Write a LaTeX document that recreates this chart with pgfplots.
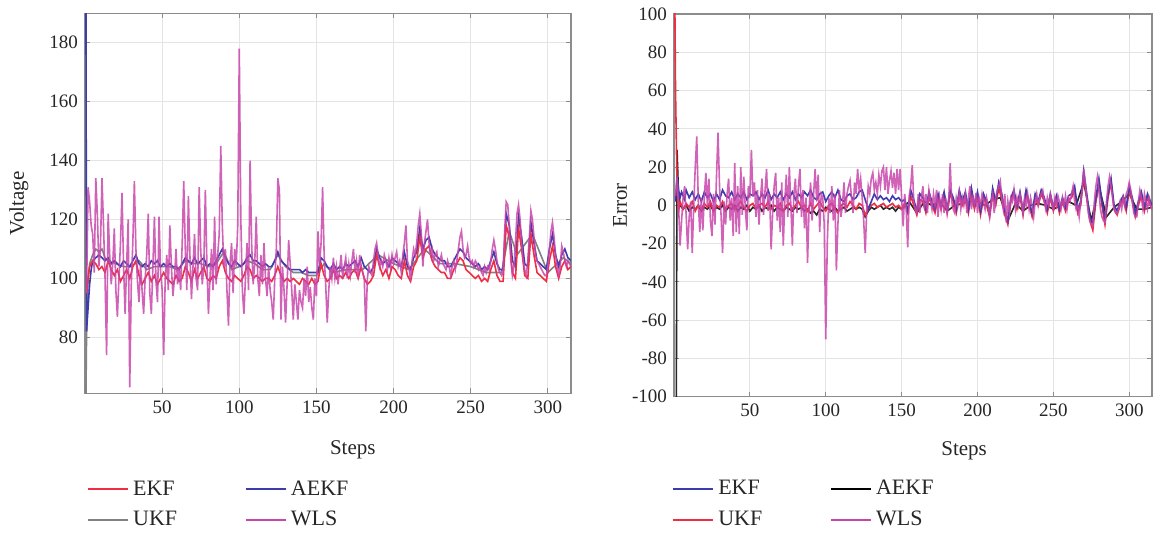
\documentclass[border=0pt]{standalone}
\usepackage{fontspec}
\setmainfont{Liberation Serif}
\usepackage{pgfplots}
\pgfplotsset{compat=1.18}

\definecolor{cRed}{RGB}{240,45,65}
\definecolor{cBlue}{RGB}{60,60,175}
\definecolor{cMag}{RGB}{200,70,170}
\definecolor{cGray}{RGB}{130,130,130}
\definecolor{cFrame}{RGB}{140,140,140}
\definecolor{cGrid}{RGB}{228,228,228}

\pgfplotsset{
  panel/.style={
    scale only axis, clip=true,
    axis line style={cFrame, line width=0.6pt},
    tick style={cFrame, line width=0.5pt},
    major tick length=2.5pt,
    tick pos=both, tick align=inside,
    grid=major, grid style={cGrid, line width=0.5pt},
    /pgf/number format/assume math mode=true,
    tick label style={font=\fontsize{9.5}{11}\selectfont, text=black!85},
    label style={font=\fontsize{10.5}{12}\selectfont, text=black!85},
    xtick={50,100,...,300},
    xmin=0, xmax=315,
    xlabel={Steps},
    legend columns=2,
    legend cell align=left,
    legend image code/.code={\path (0pt,0pt) -- (20pt,0pt); \draw[##1] (0pt,0pt) -- (17.5pt,0pt);},
    legend style={draw=none, fill=none, anchor=north west, inner sep=0pt,
      font=\fontsize{11}{13}\selectfont, text=black!85, row sep=2.5pt,
      /tikz/every even column/.append style={column sep=32pt}},
  },
  ln/.style={line width=0.8pt},
}

\begin{document}
\begin{tikzpicture}
% ---------------- left: voltage ----------------
\begin{axis}[panel, name=left, width=243pt, height=190pt,
  ymin=61, ymax=190, ytick={80,100,...,180},
  ylabel={Voltage},
  ylabel style={at={(axis description cs:-0.136,0.5)}, anchor=center},
  xlabel style={at={(axis description cs:0.551,0)}, anchor=north, yshift=-20pt},
  legend style={at={(axis description cs:0.004,-0.218)}}]
\addlegendimage{draw=cRed, line width=0.9pt}\addlegendentry{EKF}
\addlegendimage{draw=cBlue, line width=0.9pt}\addlegendentry{AEKF}
\addlegendimage{draw=cGray, line width=0.9pt}\addlegendentry{UKF}
\addlegendimage{draw=cMag, line width=0.9pt}\addlegendentry{WLS}
% UKF
\addplot[ln, cGray, forget plot] coordinates {(0.2,40)(1,80)(2,100)(3,105)(5,108)(7,110)(9,109)(11,110)(13,107)(15,106)(20,105)(25,104)(30,104)(35,106)(40,103)(45,104)(50,104)(55,104)(60,103)(65,106)(70,105)(75,105)(80,104)(85,105)(90,109)(95,103)(100,104)(105,106)(110,105)(115,103)(120,103)(125,108)(130,104)(135,102)(140,102)(145,101)(150,101)(155,105)(160,102)(170,103)(180,103)(190,108)(200,105)(210,103)(220,110)(230,105)(240,105)(250,104)(260,102)(270,102)(275,116)(280,108)(290,115)(300,102)(310,107)(315,105)};
% AEKF
\addplot[ln, cBlue, forget plot] coordinates {(0.6,200)(1,82)(2,90)(3,98)(4,103)(5,106)(7,107)(9,108)(11,107)(13,106)(15,107)(17,105)(19,106)(21,105)(23,104)(25,106)(27,105)(29,104)(31,106)(33,108)(35,105)(37,104)(39,105)(41,104)(43,106)(45,105)(47,106)(49,104)(51,105)(53,104)(55,105)(57,104)(59,104)(61,103)(63,105)(65,107)(67,106)(69,105)(71,107)(73,105)(75,106)(77,107)(79,104)(81,105)(83,104)(85,106)(87,108)(89,110)(91,107)(93,105)(95,104)(97,106)(99,105)(101,104)(103,105)(105,107)(107,108)(109,106)(111,106)(113,105)(115,104)(117,105)(119,104)(121,104)(123,106)(125,109)(127,106)(129,105)(131,104)(133,103)(135,103)(137,103)(139,103)(141,102)(143,103)(145,102)(147,102)(149,102)(151,102)(153,107)(155,106)(157,104)(159,103)(161,105)(163,103)(165,104)(167,103)(169,105)(171,104)(173,105)(175,106)(177,104)(179,107)(181,104)(183,103)(185,102)(187,104)(189,110)(191,107)(193,105)(195,106)(197,104)(199,107)(201,106)(203,105)(205,104)(207,109)(209,104)(211,103)(213,107)(215,109)(217,117)(219,110)(221,113)(223,114)(225,110)(227,108)(229,107)(231,106)(233,106)(235,104)(237,104)(239,106)(241,108)(243,110)(245,109)(247,107)(249,106)(251,105)(253,104)(255,105)(257,103)(259,104)(261,103)(263,106)(265,109)(267,105)(269,103)(271,103)(273,122)(275,118)(277,106)(279,104)(281,121)(283,114)(285,105)(287,104)(289,119)(291,112)(293,106)(295,105)(297,104)(299,103)(301,110)(303,115)(305,108)(307,104)(309,108)(311,110)(313,107)(315,106)};
% EKF
\addplot[ln, cRed, forget plot] coordinates {(1,95)(2,100)(3,104)(5,106)(7,105)(9,103)(11,104)(13,102)(15,106)(17,103)(19,101)(21,103)(23,99)(25,101)(27,103)(29,100)(31,104)(33,106)(35,101)(37,98)(39,100)(41,102)(43,99)(45,101)(47,98)(49,100)(51,102)(53,100)(55,99)(57,98)(59,101)(61,99)(63,100)(65,104)(67,102)(69,99)(71,103)(73,100)(75,102)(77,104)(79,100)(81,99)(83,101)(85,100)(87,104)(89,106)(91,102)(93,100)(95,99)(97,101)(99,100)(101,99)(103,101)(105,104)(107,103)(109,100)(111,101)(113,100)(115,99)(117,100)(119,100)(121,99)(123,101)(125,104)(127,101)(129,99)(131,100)(133,99)(135,100)(137,99)(139,98)(141,100)(143,99)(145,98)(147,100)(149,98)(151,99)(153,105)(155,101)(157,99)(159,100)(161,103)(163,100)(165,101)(167,100)(169,102)(171,100)(173,102)(175,103)(177,100)(179,104)(181,100)(183,98)(185,99)(187,101)(189,108)(191,104)(193,101)(195,103)(197,100)(199,104)(201,103)(203,101)(205,100)(207,106)(209,101)(211,99)(213,104)(215,106)(217,114)(219,107)(221,110)(223,111)(225,106)(227,104)(229,103)(231,102)(233,102)(235,100)(237,100)(239,103)(241,105)(243,107)(245,106)(247,103)(249,102)(251,101)(253,100)(255,101)(257,99)(259,100)(261,99)(263,103)(265,106)(267,101)(269,99)(271,99)(273,118)(275,114)(277,102)(279,100)(281,117)(283,110)(285,101)(287,100)(289,115)(291,108)(293,102)(295,101)(297,100)(299,99)(301,106)(303,111)(305,104)(307,100)(309,104)(311,106)(313,103)(315,104)};
% WLS
\addplot[ln, cMag, opacity=0.85, forget plot] coordinates {(1,95)(2,131)(3,126)(4,118)(5,115)(6,102)(7,134)(8,122)(9,104)(10,110)(11,134)(12,118)(13,100)(14,74)(15,122)(16,108)(17,98)(18,105)(19,117)(20,96)(21,87)(22,100)(23,112)(24,129)(25,104)(26,88)(27,105)(28,120)(29,63)(30,98)(31,112)(32,133)(33,110)(34,99)(35,92)(36,105)(37,96)(38,88)(39,100)(40,108)(41,122)(42,95)(43,88)(44,104)(45,121)(46,99)(47,92)(48,121)(49,102)(50,96)(51,74)(52,100)(53,108)(54,96)(55,118)(56,104)(57,94)(58,100)(59,110)(60,98)(61,104)(62,96)(63,112)(64,133)(65,110)(66,96)(67,128)(68,108)(69,93)(70,104)(71,115)(72,100)(73,96)(74,131)(75,110)(76,98)(77,104)(78,130)(79,105)(80,88)(81,100)(82,110)(83,96)(84,121)(85,98)(86,108)(87,115)(88,145)(89,118)(90,104)(91,110)(92,96)(93,84)(94,105)(95,112)(96,95)(97,110)(98,104)(99,118)(100,178)(101,120)(102,96)(103,88)(104,100)(105,112)(106,96)(107,140)(108,112)(109,98)(110,105)(111,121)(112,100)(113,94)(114,108)(115,98)(116,112)(117,100)(118,94)(119,104)(120,96)(121,92)(122,86)(123,100)(124,110)(125,134)(126,130)(127,86)(128,104)(129,96)(130,85)(131,98)(132,113)(133,105)(134,96)(135,86)(136,98)(137,92)(138,86)(139,96)(140,92)(141,90)(142,100)(143,94)(144,104)(145,92)(146,97)(147,90)(148,86)(149,100)(150,94)(151,116)(152,104)(153,112)(154,131)(155,108)(156,98)(157,85)(158,96)(159,104)(160,100)(161,107)(162,100)(163,104)(164,98)(165,103)(166,108)(167,100)(168,104)(169,107)(170,100)(171,105)(172,101)(173,106)(174,110)(175,102)(176,106)(177,100)(178,108)(179,104)(180,102)(181,100)(182,82)(183,100)(184,104)(185,102)(186,101)(187,106)(188,110)(189,112)(190,108)(191,104)(192,106)(193,104)(194,108)(195,106)(196,103)(197,107)(198,104)(199,108)(200,105)(201,107)(202,109)(203,104)(204,106)(205,102)(206,108)(207,112)(208,118)(209,106)(210,104)(211,99)(212,106)(213,110)(214,108)(215,112)(216,118)(217,122)(218,115)(219,104)(220,112)(221,116)(222,120)(223,112)(224,108)(225,110)(226,106)(227,108)(228,109)(229,104)(230,106)(231,108)(232,105)(233,104)(234,103)(235,106)(236,104)(237,101)(238,104)(239,106)(240,103)(241,106)(242,110)(243,114)(244,116)(245,110)(246,107)(247,108)(248,111)(249,107)(250,105)(251,106)(252,104)(253,106)(254,105)(255,103)(256,104)(257,102)(258,101)(259,104)(260,102)(261,104)(262,103)(263,106)(264,110)(265,113)(266,110)(267,106)(268,103)(269,102)(270,101)(271,102)(272,116)(273,126)(274,125)(275,118)(276,106)(277,101)(278,104)(279,112)(280,122)(281,125)(282,120)(283,112)(284,106)(285,103)(286,101)(287,106)(288,114)(289,123)(290,120)(291,114)(292,108)(293,106)(294,105)(295,104)(296,103)(297,102)(298,101)(299,101)(300,104)(301,110)(302,116)(303,119)(304,114)(305,108)(306,104)(307,101)(308,104)(309,111)(310,109)(311,106)(312,104)(313,106)(314,105)(315,104)};
\end{axis}

% ---------------- right: error ----------------
\begin{axis}[panel, name=right, at={(294.5pt,-1.7pt)}, width=239pt, height=191.35pt,
  ymin=-100, ymax=100, ytick={-100,-80,...,100},
  ylabel={Error},
  ylabel style={at={(axis description cs:-0.113,0.5)}, anchor=center},
  xlabel style={at={(axis description cs:0.607,0)}, anchor=north, yshift=-19pt},
  legend style={at={(axis description cs:-0.004,-0.207)}}]
\addlegendimage{draw=cBlue, line width=0.9pt}\addlegendentry{EKF}
\addlegendimage{draw=black, line width=0.9pt}\addlegendentry{AEKF}
\addlegendimage{draw=cRed, line width=0.9pt}\addlegendentry{UKF}
\addlegendimage{draw=cMag, line width=0.9pt}\addlegendentry{WLS}
% AEKF
\addplot[ln, black!85, forget plot] coordinates {(0.8,-120)(1.5,-110)(2,29)(3,5)(4,0)(6,-2)(8,0)(10,-3)(12,-1)(14,-2)(16,0)(18,-3)(20,-1)(22,-2)(24,0)(26,-3)(28,-1)(30,-2)(32,0)(34,-3)(36,-1)(38,-2)(40,0)(42,-3)(44,-1)(46,-2)(48,0)(50,-3)(52,-1)(54,-2)(56,0)(58,-3)(60,-1)(62,-2)(64,0)(66,-3)(68,-1)(70,-2)(72,-3)(74,-1)(76,-2)(78,-3)(80,-1)(82,-2)(84,-1)(86,-3)(88,-2)(90,-4)(92,-3)(94,-5)(96,-2)(98,-3)(100,-1)(102,-2)(104,-3)(106,-1)(108,-3)(110,-2)(112,-1)(114,-3)(116,-2)(118,-1)(120,-2)(122,-1)(124,-2)(126,-6)(128,-3)(130,-1)(132,-2)(134,-1)(136,0)(138,-2)(140,-1)(142,-2)(144,-1)(146,-3)(148,-1)(150,-2)(155,2)(160,-4)(165,2)(170,0)(175,2)(180,-3)(185,0)(190,1)(195,2)(200,2)(205,0)(210,3)(215,4)(220,-8)(225,1)(230,-3)(235,0)(240,1)(245,0)(250,-2)(255,0)(260,2)(265,0)(270,12)(275,-8)(280,10)(285,-6)(290,-1)(295,2)(300,6)(305,-2)(310,-2)(315,-1)};
% UKF
\addplot[ln, cRed, forget plot] coordinates {(0.5,110)(1,60)(2,10)(3,-3)(4,2)(6,-2)(8,1)(10,-1)(12,2)(14,-3)(16,0)(18,-2)(20,1)(22,-1)(24,2)(26,-3)(28,0)(30,-1)(32,2)(34,-2)(36,0)(38,1)(40,-2)(42,0)(44,2)(46,-1)(48,-3)(50,0)(52,1)(54,-2)(56,0)(58,1)(60,-1)(62,2)(64,-2)(66,0)(68,-1)(70,1)(72,-3)(74,0)(76,1)(78,-2)(80,0)(82,2)(84,-1)(86,0)(88,-3)(90,1)(92,-2)(94,0)(96,2)(98,-1)(100,-3)(102,0)(104,1)(106,-2)(108,-4)(110,0)(112,1)(114,-1)(116,2)(118,0)(120,-2)(122,1)(124,0)(126,-5)(128,-2)(130,0)(132,1)(134,-1)(136,0)(138,1)(140,-1)(142,0)(144,1)(146,-1)(148,0)(150,-2)(152,1)(154,-4)(156,5)(158,0)(160,-5)(162,3)(164,2)(166,-4)(168,4)(170,0)(172,-4)(174,4)(176,-2)(178,5)(180,-4)(182,6)(184,2)(186,-4)(188,5)(190,0)(192,4)(194,-4)(196,6)(198,-2)(200,5)(202,-5)(204,4)(206,0)(208,-6)(210,6)(212,0)(214,9)(216,3)(218,-5)(220,-10)(222,2)(224,6)(226,-2)(228,5)(230,-5)(232,6)(234,0)(236,-6)(238,4)(240,0)(242,6)(244,2)(246,-4)(248,4)(250,-3)(252,3)(254,-4)(256,2)(258,-3)(260,3)(262,4)(264,8)(266,-4)(268,0)(270,15)(272,4)(274,-8)(276,-13)(278,2)(280,12)(282,0)(284,-10)(286,4)(288,12)(290,-2)(292,-5)(294,0)(296,3)(298,-3)(300,8)(302,2)(304,-6)(306,0)(308,5)(310,-3)(312,4)(315,-2)};
% EKF
\addplot[ln, cBlue, forget plot] coordinates {(1,2)(2,15)(3,8)(4,4)(5,7)(7,3)(8,8)(10,4)(12,7)(14,3)(16,6)(18,2)(20,7)(22,4)(24,6)(26,2)(28,6)(30,3)(32,8)(34,5)(36,4)(38,7)(40,3)(42,6)(44,4)(46,7)(48,3)(50,6)(52,5)(54,7)(56,3)(58,6)(60,4)(62,8)(64,3)(66,6)(68,4)(70,7)(72,3)(74,6)(76,4)(78,7)(80,3)(82,6)(84,4)(86,7)(88,5)(90,8)(92,4)(94,3)(96,6)(98,7)(100,2)(102,5)(104,7)(106,4)(108,8)(110,3)(112,2)(114,5)(116,6)(118,3)(120,4)(122,7)(124,8)(126,3)(128,-2)(130,2)(132,6)(134,3)(136,5)(138,3)(140,4)(142,2)(144,5)(146,3)(148,4)(150,2)(152,3)(154,-3)(156,8)(158,3)(160,-3)(162,6)(164,4)(166,-2)(168,7)(170,2)(172,-2)(174,6)(176,0)(178,7)(180,-2)(182,8)(184,4)(186,-2)(188,8)(190,2)(192,7)(194,-2)(196,9)(198,0)(200,7)(202,-3)(204,6)(206,2)(208,-4)(210,9)(212,2)(214,12)(216,6)(218,-3)(220,-8)(222,4)(224,8)(226,0)(228,7)(230,-3)(232,8)(234,2)(236,-4)(238,6)(240,2)(242,8)(244,4)(246,-2)(248,6)(250,-1)(252,5)(254,-2)(256,4)(258,-1)(260,5)(262,6)(264,10)(266,-2)(268,2)(270,18)(272,6)(274,-6)(276,-9)(278,4)(280,14)(282,2)(284,-7)(286,6)(288,14)(290,0)(292,-3)(294,2)(296,5)(298,-1)(300,10)(302,4)(304,-4)(306,2)(308,7)(310,-1)(312,6)(315,0)};
% WLS
\addplot[ln, cMag, opacity=0.85, forget plot] coordinates {(1,5)(2,15)(3,0)(4,-21)(5,-8)(6,4)(7,10)(8,-5)(9,-23)(10,-6)(11,2)(12,-25)(13,0)(14,20)(15,36)(16,2)(17,-14)(18,4)(19,-13)(20,5)(21,17)(22,0)(23,14)(24,-8)(25,-16)(26,6)(27,-10)(28,15)(29,38)(30,10)(31,-5)(32,-25)(33,2)(34,-10)(35,6)(36,14)(37,-8)(38,4)(39,-16)(40,22)(41,-14)(42,10)(43,-15)(44,20)(45,-5)(46,15)(47,-2)(48,-13)(49,10)(50,4)(51,29)(52,5)(53,12)(54,-6)(55,8)(56,-10)(57,4)(58,14)(59,-5)(60,8)(61,19)(62,-3)(63,6)(64,-23)(65,-4)(66,10)(67,17)(68,-8)(69,4)(70,-14)(71,12)(72,-21)(73,2)(74,16)(75,-6)(76,20)(77,0)(78,-21)(79,6)(80,14)(81,-4)(82,10)(83,19)(84,-6)(85,8)(86,-12)(87,4)(88,-30)(89,-2)(90,12)(91,-8)(92,6)(93,19)(94,2)(95,16)(96,-14)(97,6)(98,4)(99,-10)(100,-70)(101,-20)(102,4)(103,-4)(104,10)(105,-8)(106,6)(107,-34)(108,-10)(109,8)(110,-6)(111,0)(112,12)(113,-4)(114,6)(115,10)(116,13)(117,4)(118,-4)(119,12)(120,6)(121,19)(122,8)(123,14)(124,4)(125,-8)(126,-25)(127,-2)(128,10)(129,6)(130,14)(131,17)(132,8)(133,12)(134,6)(135,16)(136,10)(137,18)(138,20)(139,8)(140,20)(141,6)(142,13)(143,18)(144,9)(145,17)(146,6)(147,19)(148,8)(149,19)(150,4)(151,-11)(152,6)(153,-2)(154,-22)(155,5)(156,10)(157,21)(158,2)(159,-2)(160,-4)(161,6)(162,-4)(163,4)(164,10)(165,-2)(166,6)(167,-4)(168,8)(169,3)(170,-2)(171,6)(172,0)(173,8)(174,-6)(175,4)(176,-2)(177,6)(178,-4)(179,4)(180,-4)(181,2)(182,22)(183,2)(184,-2)(185,-4)(186,4)(187,0)(188,6.5)(189,-2)(190,4)(191,0)(192,6)(193,-4)(194,4)(195,10)(196,-2)(197,4)(198,0)(199,6.5)(200,-4)(201,4)(202,0)(203,6)(204,2)(205,-2)(206,4)(207,0)(208,-6)(209,2)(210,6)(211,-4)(212,4)(213,8)(214,10)(215,12.7)(216,4)(217,-2)(218,6)(219,-9)(220,2)(221,-4)(222,4)(223,2)(224,8)(225,-2)(226,4)(227,0)(228,6)(229,2)(230,-4)(231,4)(232,0)(233,6)(234,-2)(235,4)(236,0)(237,-6)(238,2)(239,6)(240,0)(241,4)(242,6)(243,8)(244,2)(245,-2)(246,4)(247,0)(248,6)(249,2)(250,-2)(251,4)(252,0)(253,5)(254,2)(255,-2)(256,4)(257,0)(258,5)(259,-2)(260,4)(261,2)(262,6)(263,10)(264,2)(265,-2)(266,0)(267,-6)(268,2)(269,8)(270,19)(271,12)(272,4)(273,-4)(274,-8)(275,-10)(276,-11)(277,2)(278,10)(279,15)(280,8)(281,-2)(282,-6)(283,-8)(284,-9)(285,2)(286,10)(287,15)(288,10)(289,4)(290,-2)(291,-4)(292,-4)(293,-2)(294,2)(295,-2)(296,4)(297,0)(298,6)(299,8)(300,12)(301,8)(302,2)(303,-4)(304,-6)(305,-6)(306,2)(307,8)(308,4)(309,-2)(310,6)(311,2)(312,-2)(313,4)(314,0)(315,-2)};
\end{axis}
\path (-42.5pt,-67.85pt) rectangle (534.5pt,196.65pt);
\end{tikzpicture}
\end{document}
